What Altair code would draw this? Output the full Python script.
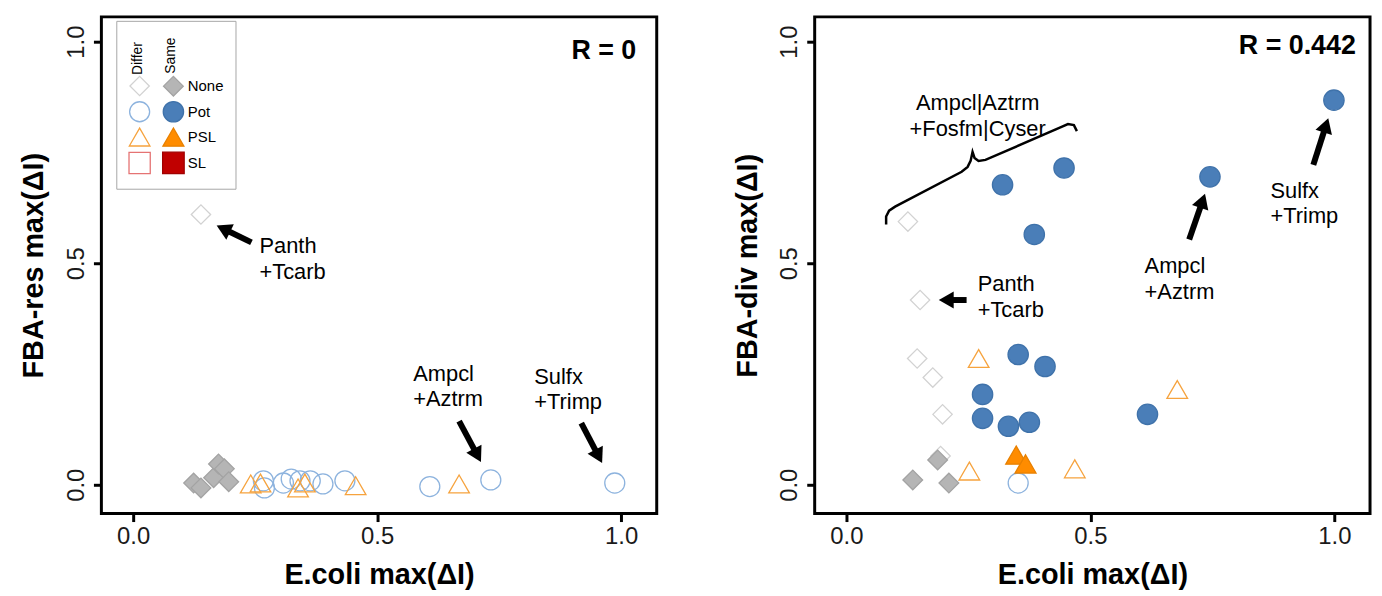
import math
import altair as alt
import pandas as pd

# ---------------- data ----------------
classes = ["Differ-None", "Same-None", "Differ-Pot", "Same-Pot",
           "Differ-PSL", "Same-PSL", "Differ-SL", "Same-SL"]

# Left panel: E.coli max(dI) vs FBA-res max(dI)
res_diff_none_x = [0.139]
res_diff_none_y = [0.610]
res_same_none_x = [0.124, 0.139, 0.165, 0.175, 0.187, 0.196]
res_same_none_y = [0.004, -0.007, 0.016, 0.047, 0.036, 0.007]
res_diff_pot_x = [0.267, 0.269, 0.308, 0.324, 0.342, 0.363, 0.389, 0.434, 0.608, 0.733, 0.987]
res_diff_pot_y = [0.009, -0.007, 0.004, 0.013, 0.009, 0.009, 0.002, 0.009, -0.004, 0.011, 0.004]
res_diff_psl_x = [0.241, 0.261, 0.338, 0.352, 0.456, 0.668]
res_diff_psl_y = [0.002, 0.004, -0.007, 0.004, -0.002, 0.002]

# Right panel: E.coli max(dI) vs FBA-div max(dI)
div_diff_none_x = [0.193, 0.126, 0.151, 0.145, 0.177, 0.197]
div_diff_none_y = [0.065, 0.594, 0.417, 0.285, 0.242, 0.159]
div_same_none_x = [0.187, 0.136, 0.210]
div_same_none_y = [0.056, 0.011, 0.004]
div_diff_pot_x = [0.352]
div_diff_pot_y = [0.004]
div_same_pot_x = [0.320, 0.446, 0.385, 0.352, 0.407, 0.279, 0.279, 0.332, 0.375, 0.617, 0.745, 0.999]
div_same_pot_y = [0.677, 0.715, 0.565, 0.294, 0.267, 0.204, 0.150, 0.132, 0.141, 0.159, 0.695, 0.868]
div_diff_psl_x = [0.271, 0.252, 0.468, 0.678]
div_diff_psl_y = [0.285, 0.031, 0.036, 0.215]
div_same_psl_x = [0.348, 0.367]
div_same_psl_y = [0.067, 0.047]

tick_values = [0.0, 0.5, 1.0]

# ---------------- styling ----------------
FONT = "Liberation Sans"
XD = [-0.065, 1.073]
YD = [-0.065, 1.056]
W, H = 559, 500
KX = W / (XD[1] - XD[0])
KY = H / (YD[1] - YD[0])

shape_range = ["diamond", "diamond", "circle", "circle",
               "triangle-up", "triangle-up", "square", "square"]
fill_range = ["transparent", "#b5b5b5", "transparent", "#4a7eb8",
              "transparent", "#ff8c00", "transparent", "#c00000"]
stroke_range = ["#d2d2d2", "#a3a3a3", "#8db3de", "#3f72aa",
                "#f6a33e", "#e88000", "#e57373", "#a00000"]
size_range = [380, 470, 350, 430, 470, 470, 320, 320]


def frame(parts):
    rows = []
    for cls, xs, ys in parts:
        for xv, yv in zip(xs, ys):
            rows.append({"cls": cls, "x": xv, "y": yv})
    return pd.DataFrame(rows)


res_df = frame([
    ("Differ-None", res_diff_none_x, res_diff_none_y),
    ("Same-None", res_same_none_x, res_same_none_y),
    ("Differ-Pot", res_diff_pot_x, res_diff_pot_y),
    ("Differ-PSL", res_diff_psl_x, res_diff_psl_y),
])
div_df = frame([
    ("Differ-None", div_diff_none_x, div_diff_none_y),
    ("Same-None", div_same_none_x, div_same_none_y),
    ("Differ-Pot", div_diff_pot_x, div_diff_pot_y),
    ("Same-Pot", div_same_pot_x, div_same_pot_y),
    ("Differ-PSL", div_diff_psl_x, div_diff_psl_y),
    ("Same-PSL", div_same_psl_x, div_same_psl_y),
])

xscale = alt.Scale(domain=XD, nice=False, zero=False)
yscale = alt.Scale(domain=YD, nice=False, zero=False)


def x_axis():
    return alt.Axis(values=tick_values, format=".1f", grid=False, domain=False,
                    tickSize=8, tickWidth=3, tickColor="black",
                    labelFontSize=24, labelColor="#1a1a1a", labelPadding=3,
                    labelFont=FONT, title="E.coli max(ΔI)", titleFontSize=29,
                    titleFont=FONT, titleFontWeight="bold", titleColor="black",
                    titlePadding=12)


def y_axis(title):
    return alt.Axis(values=tick_values, format=".1f", grid=False, domain=False,
                    tickSize=8, tickWidth=3, tickColor="black",
                    labelFontSize=24, labelColor="#1a1a1a", labelPadding=5,
                    labelAngle=270, labelAlign="center", labelBaseline="bottom",
                    labelFont=FONT, title=title, titleFontSize=29, titleFont=FONT,
                    titleFontWeight="bold", titleColor="black", titlePadding=16)


def points(df, title, legend):
    kw = {"legend": legend} if legend is not None else {"legend": None}
    return alt.Chart(df).mark_point(filled=True, opacity=1, strokeWidth=1.3).encode(
        x=alt.X("x:Q", scale=xscale, axis=x_axis()),
        y=alt.Y("y:Q", scale=yscale, axis=y_axis(title)),
        shape=alt.Shape("cls:N", scale=alt.Scale(domain=classes, range=shape_range), **kw),
        fill=alt.Fill("cls:N", scale=alt.Scale(domain=classes, range=fill_range), **kw),
        stroke=alt.Stroke("cls:N", scale=alt.Scale(domain=classes, range=stroke_range), **kw),
        size=alt.Size("cls:N", scale=alt.Scale(domain=classes, range=size_range), **kw),
        order=alt.Order("idx:Q"),
    ).transform_window(idx="row_number()")


def arrows(tails, tips):
    rows = []
    head = 300
    h = math.sqrt(3) / 2 * math.sqrt(head) / 2
    for (x0, y0), (x1, y1) in zip(tails, tips):
        dx = (x1 - x0) * KX
        dy = -(y1 - y0) * KY
        L = math.hypot(dx, dy)
        ux, uy = dx / L, dy / L
        hx = x1 - ux * h / KX
        hy = y1 + uy * h / KY
        ang = math.degrees(math.atan2(ux, -uy)) % 360
        rows.append({"x0": x0, "y0": y0, "hx": hx, "hy": hy, "ang": ang})
    df = pd.DataFrame(rows)
    shaft = alt.Chart(df).mark_rule(color="black", strokeWidth=6).encode(
        x=alt.X("x0:Q", scale=xscale), y=alt.Y("y0:Q", scale=yscale),
        x2="hx:Q", y2="hy:Q")
    tip = alt.Chart(df).mark_point(shape="triangle-up", filled=True, color="black",
                                   opacity=1, size=head).encode(
        x=alt.X("hx:Q", scale=xscale), y=alt.Y("hy:Q", scale=yscale),
        angle=alt.Angle("ang:Q", scale=None))
    return shaft + tip


def labels(xs, ys, texts, align="left"):
    df = pd.DataFrame({"x": xs, "y": ys, "t": texts})
    return alt.Chart(df).mark_text(align=align, baseline="middle", fontSize=22,
                                   font=FONT, lineBreak="\n", lineHeight=26,
                                   color="black").encode(
        x=alt.X("x:Q", scale=xscale), y=alt.Y("y:Q", scale=yscale), text="t:N")


def rlabel(x, y, text):
    df = pd.DataFrame({"x": [x], "y": [y], "t": [text]})
    return alt.Chart(df).mark_text(align="right", baseline="middle", fontSize=27,
                                   font=FONT, fontWeight="bold", color="black").encode(
        x=alt.X("x:Q", scale=xscale), y=alt.Y("y:Q", scale=yscale), text="t:N")


legend = alt.Legend(orient="none", legendX=15, legendY=4, columns=2,
                    direction="horizontal",
                    title=[" ", " "], titleFontSize=16, titleLineHeight=22.5,
                    titlePadding=4, padding=12, strokeColor="#a6a6a6",
                    labelFont=FONT, labelFontSize=15,
                    labelColor="black", labelOffset=3, columnPadding=6,
                    rowPadding=0, symbolStrokeWidth=1.3, symbolOpacity=1,
                    labelExpr="slice(datum.label, 0, 5) == 'Same-' ? slice(datum.label, 5) : ''")

hdr_differ = alt.Chart(pd.DataFrame({"t": ["Differ"]})).mark_text(
    angle=270, fontSize=14, font=FONT, color="black", align="center", baseline="middle"
).encode(x=alt.value(37), y=alt.value(42), text="t:N")
hdr_same = alt.Chart(pd.DataFrame({"t": ["Same"]})).mark_text(
    angle=270, fontSize=14, font=FONT, color="black", align="center", baseline="middle"
).encode(x=alt.value(70), y=alt.value(39), text="t:N")

# brace (right panel)
brace_x = [0.0814, 0.0814, 0.0875, 0.0998, 0.2362, 0.2484, 0.2545, 0.2585,
           0.2626, 0.2708, 0.2850, 0.4397, 0.4540, 0.4662, 0.4723]
brace_y = [0.5874, 0.6054, 0.6188, 0.6278, 0.7063, 0.7175, 0.7309, 0.7511,
           0.7377, 0.7309, 0.7332, 0.8072, 0.8139, 0.8117, 0.7982]
brace_df = pd.DataFrame({"x": brace_x, "y": brace_y, "o": list(range(len(brace_x)))})
brace = alt.Chart(brace_df).mark_line(color="black", strokeWidth=2.5).encode(
    x=alt.X("x:Q", scale=xscale), y=alt.Y("y:Q", scale=yscale), order="o:Q")

left = alt.layer(
    points(res_df, "FBA-res max(ΔI)", legend),
    arrows([(0.2425, 0.5471), (0.6680, 0.1435), (0.9184, 0.1390)],
           [(0.1712, 0.5852), (0.7128, 0.0516), (0.9611, 0.0493)]),
    labels([0.259, 0.574, 0.822], [0.538, 0.251, 0.244],
           ["Panth\n+Tcarb", "Ampcl\n+Aztrm", "Sulfx\n+Trimp"]),
    rlabel(1.031, 0.978, "R = 0"),
    hdr_differ, hdr_same,
).properties(width=W, height=H)

right = alt.layer(
    points(div_df, "FBA-div max(ΔI)", None),
    arrows([(0.2463, 0.4170), (0.7024, 0.5538), (0.9568, 0.7220)],
           [(0.1893, 0.4170), (0.7349, 0.6570), (0.9874, 0.8274)]),
    labels([0.269, 0.611, 0.869], [0.453, 0.493, 0.664],
           ["Panth\n+Tcarb", "Ampcl\n+Aztrm", "Sulfx\n+Trimp"]),
    labels([0.269], [0.861], ["Ampcl|Aztrm\n+Fosfm|Cyser"], align="center"),
    brace,
    rlabel(1.044, 0.991, "R = 0.442"),
).properties(width=W, height=H)

chart = alt.hconcat(left, right, spacing=73).resolve_scale(
    shape="independent", fill="independent", stroke="independent", size="independent"
).resolve_legend(
    shape="independent", fill="independent", stroke="independent", size="independent"
).properties(
    padding={"left": 10, "top": 5, "right": 2, "bottom": 0}
).configure(font=FONT).configure_view(stroke="black", strokeWidth=3)

chart.save("out.html", embed_options={"renderer": "svg", "actions": False})
